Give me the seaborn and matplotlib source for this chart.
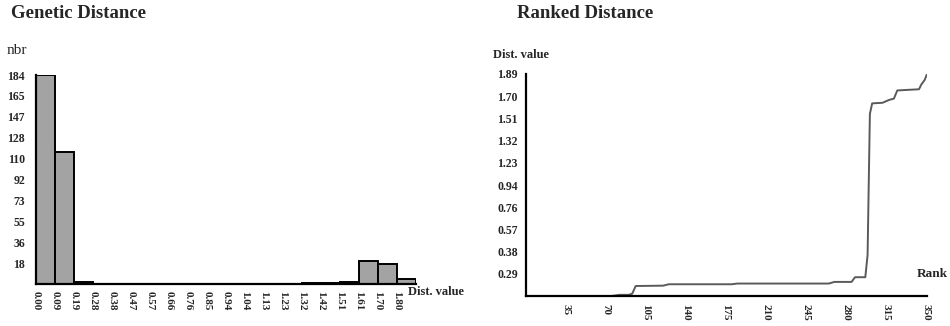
import numpy as np
import pandas as pd
import matplotlib
matplotlib.use("Agg")
import matplotlib.pyplot as plt
import seaborn as sns

# histogram data: counts per distance class
bin_labels = ['0.00', '0.09', '0.19', '0.28', '0.38', '0.47', '0.57', '0.66', '0.76', '0.85',
              '0.94', '1.04', '1.13', '1.23', '1.32', '1.42', '1.51', '1.61', '1.70', '1.80']
counts = [184, 116, 2, 0, 0, 0, 0, 0, 0, 0,
          0, 0, 0, 0, 1, 1, 2, 20, 18, 4]
nbr_labels = ['18', '36', '55', '73', '92', '110', '128', '147', '165', '184']

# ranked distance curve (rank, value)
rank = [1, 75, 82, 90, 93, 96, 120, 125, 180, 185, 265, 270, 285, 288, 297, 299, 301,
        303, 312, 318, 322, 325, 344, 346, 349, 351]
dist = [0.0, 0.0, 0.01, 0.01, 0.02, 0.085, 0.088, 0.10, 0.10, 0.106, 0.106, 0.12, 0.12,
        0.16, 0.16, 0.35, 1.55, 1.64, 1.645, 1.67, 1.68, 1.75, 1.76, 1.80, 1.84, 1.89]
rank_ticks = [35, 70, 105, 140, 175, 210, 245, 280, 315, 350]
dist_labels = ['0.29', '0.38', '0.57', '0.76', '0.94', '1.23', '1.32', '1.51', '1.70', '1.89']

sns.set_style("white")
plt.rcParams['font.family'] = ['Liberation Serif', 'DejaVu Serif']

fig = plt.figure(figsize=(9.5, 3.26), dpi=100)

# ---- Genetic Distance histogram
ax1 = fig.add_axes([36/950, 42/326, 380/950, 209/326])
edges = np.linspace(0, 1.89, len(counts) + 1)
hist_df = pd.DataFrame({'dist': edges[:-1] + 0.01, 'n': counts})
sns.histplot(data=hist_df, x='dist', weights='n', binwidth=1.89/20, binrange=(0, 1.89), ax=ax1,
             color='#a3a3a3', edgecolor='black', linewidth=1.4, alpha=1)
ax1.set_xlim(0, 1.89)
ax1.set_ylim(0, 184)
ax1.set_xticks(edges[:-1])
ax1.set_xticklabels(bin_labels, rotation=270, fontsize=8, fontweight='bold')
ax1.set_yticks(np.linspace(18.4, 184, 10))
ax1.set_yticklabels(nbr_labels, fontsize=8.5, fontweight='bold')
ax1.set_xlabel('')
ax1.set_ylabel('')
for s in ['top', 'right']:
    ax1.spines[s].set_visible(False)
for s in ['left', 'bottom']:
    ax1.spines[s].set_linewidth(1.6)
    ax1.spines[s].set_color('black')
ax1.tick_params(axis='x', direction='out', length=3, width=1.2, color='black', pad=2)
ax1.tick_params(axis='y', direction='out', length=4, width=1.2, color='black', pad=4)

fig.text(11/950, 1 - 13/326, 'Genetic Distance', fontsize=13.5, fontweight='bold', va='center')
fig.text(7/950, 1 - 50/326, 'nbr', fontsize=11, va='center')
fig.text(408/950, 1 - 292/326, 'Dist. value', fontsize=9, fontweight='bold', va='center')

# ---- Ranked Distance curve
ax2 = fig.add_axes([526/950, 30/326, 401/950, 222/326])
sns.lineplot(x=rank, y=dist, ax=ax2, color='#5a5a5a', linewidth=1.4)
ax2.set_xlim(0, 351)
ax2.set_ylim(0, 1.89)
ax2.set_xticks(rank_ticks)
ax2.set_xticklabels([str(r) for r in rank_ticks], rotation=270, fontsize=8, fontweight='bold')
ax2.set_yticks(np.linspace(0.189, 1.89, 10))
ax2.set_yticklabels(dist_labels, fontsize=8.5, fontweight='bold')
ax2.set_xlabel('')
ax2.set_ylabel('')
for s in ['top', 'right']:
    ax2.spines[s].set_visible(False)
for s in ['left', 'bottom']:
    ax2.spines[s].set_linewidth(1.6)
    ax2.spines[s].set_color('black')
ax2.tick_params(axis='both', direction='out', length=3, width=1.2, color='black', pad=3)

fig.text(517/950, 1 - 13/326, 'Ranked Distance', fontsize=13.5, fontweight='bold', va='center')
fig.text(493/950, 1 - 55/326, 'Dist. value', fontsize=9, fontweight='bold', va='center')
fig.text(917/950, 1 - 274/326, 'Rank', fontsize=9.5, fontweight='bold', va='center')

fig.savefig('out.png', dpi=100)
